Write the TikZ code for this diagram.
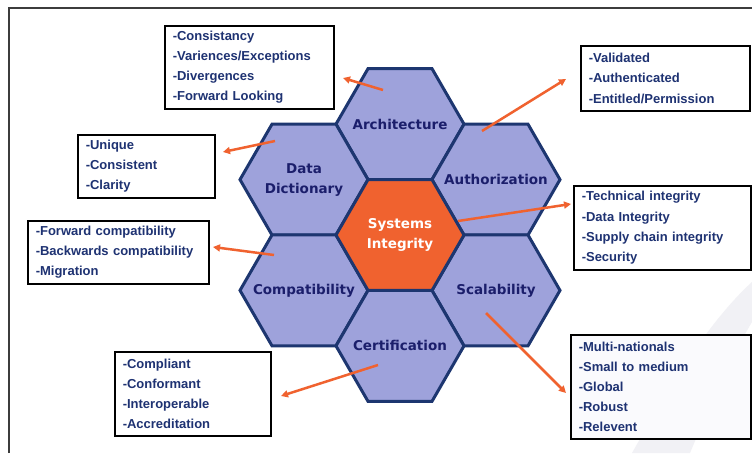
\documentclass[tikz,border=0pt]{standalone}
\usepackage{fontspec}
\setmainfont{Liberation Sans}
\newfontfamily\hexfont{DejaVu Sans}
\usetikzlibrary{shapes.geometric,arrows.meta}
\definecolor{hexfill}{HTML}{9EA2DB}
\definecolor{hexline}{HTML}{1D3670}
\definecolor{core}{HTML}{F0622F}
\definecolor{hextext}{HTML}{1B1E6B}
\definecolor{boxtext}{HTML}{1E3272}
\definecolor{framecol}{HTML}{3C3C3C}
\definecolor{swoosh}{HTML}{F1F1F5}
\begin{document}
\begin{tikzpicture}[x=1pt,y=-1pt,
  hexcell/.style={regular polygon, regular polygon sides=6, minimum size=128pt, inner sep=0pt,
    draw=hexline, line width=3pt, fill=hexfill},
  corecell/.style={hexcell, fill=core},
  hexlabel/.style={text=hextext, align=center, inner sep=0pt,
    font=\hexfont\bfseries\fontsize{13.5}{20}\selectfont},
  corelabel/.style={hexlabel, text=white},
  infobox/.style={draw=black, line width=1.5pt, fill=white, inner xsep=8pt, inner ysep=0pt,
    align=left, anchor=north west, text=boxtext,
    font=\bfseries\fontsize{13}{20.2}\selectfont},
  pointer/.style={draw=core, line width=2.5pt, -{Triangle[length=7pt,width=7pt]}}
]
\useasboundingbox (0,0) rectangle (752,453);
\fill[white] (0,0) rectangle (752,453);
% faint swoosh
\fill[swoosh] (752,282) .. controls (705,325) and (665,395) .. (632,453) -- (690,453)
  .. controls (712,400) and (735,350) .. (752,322) -- cycle;
% frame
\draw[framecol, line width=2pt] (9,453) -- (9,8) -- (752,8);
% hexagons
\node[hexcell] (arch) at (400,124.1) {};
\node[hexcell] (dd)   at (304,179.6) {};
\node[hexcell] (auth) at (496,179.6) {};
\node[hexcell] (comp) at (304,290.4) {};
\node[hexcell] (scal) at (496,290.4) {};
\node[hexcell] (cert) at (400,345.9) {};
\node[corecell] (core) at (400,235) {};
\node[hexlabel] (archlabel) at (arch) {Architecture};
\node[hexlabel] (ddlabel) at (dd) {Data\\Dictionary};
\node[hexlabel] (authlabel) at (auth) {Authorization};
\node[hexlabel] (complabel) at (comp) {Compatibility};
\node[hexlabel] (scallabel) at (scal) {Scalability};
\node[hexlabel] (certlabel) at (cert) {Certification};
\node[corelabel] (corelabel) at (core) {Systems\\Integrity};
% boxes
\node[infobox, text width=153pt, minimum height=83pt] (archbox) at (164,25)
  {-Consistancy\\-Variences/Exceptions\\-Divergences\\-Forward Looking};
\node[infobox, text width=153pt, minimum height=65pt] (authbox) at (580,45)
  {-Validated\\-Authenticated\\-Entitled/Permission};
\node[infobox, text width=121pt, minimum height=63pt] (ddbox) at (77,134)
  {-Unique\\-Consistent\\-Clarity};
\node[infobox, text width=165pt, minimum height=63pt] (compbox) at (27,220)
  {-Forward compatibility\\-Backwards compatibility\\-Migration};
\node[infobox, text width=161pt, minimum height=84pt] (corebox) at (573,185)
  {-Technical integrity\\-Data Integrity\\-Supply chain integrity\\-Security};
\node[infobox, text width=164pt, minimum height=104pt, fill=white!95!hexfill] (scalbox) at (570,334)
  {-Multi-nationals\\-Small to medium\\-Global\\-Robust\\-Relevent};
\node[infobox, text width=140pt, minimum height=84pt] (certbox) at (114,351)
  {-Compliant\\-Conformant\\-Interoperable\\-Accreditation};
% arrow end points
\coordinate (archS) at (383,90);  \coordinate (archT) at (343,78);
\coordinate (authS) at (482,131); \coordinate (authT) at (566,79);
\coordinate (ddS) at (275,141);   \coordinate (ddT) at (223,152);
\coordinate (compS) at (274,255); \coordinate (compT) at (213,247);
\coordinate (coreS) at (458,221); \coordinate (coreT) at (571,204);
\coordinate (scalS) at (486,313); \coordinate (scalT) at (566,393);
\coordinate (certS) at (378,365); \coordinate (certT) at (281,396);
\draw[pointer] (archS) -- (archT);
\draw[pointer] (authS) -- (authT);
\draw[pointer] (ddS) -- (ddT);
\draw[pointer] (compS) -- (compT);
\draw[pointer] (coreS) -- (coreT);
\draw[pointer] (scalS) -- (scalT);
\draw[pointer] (certS) -- (certT);
\end{tikzpicture}
\end{document}
